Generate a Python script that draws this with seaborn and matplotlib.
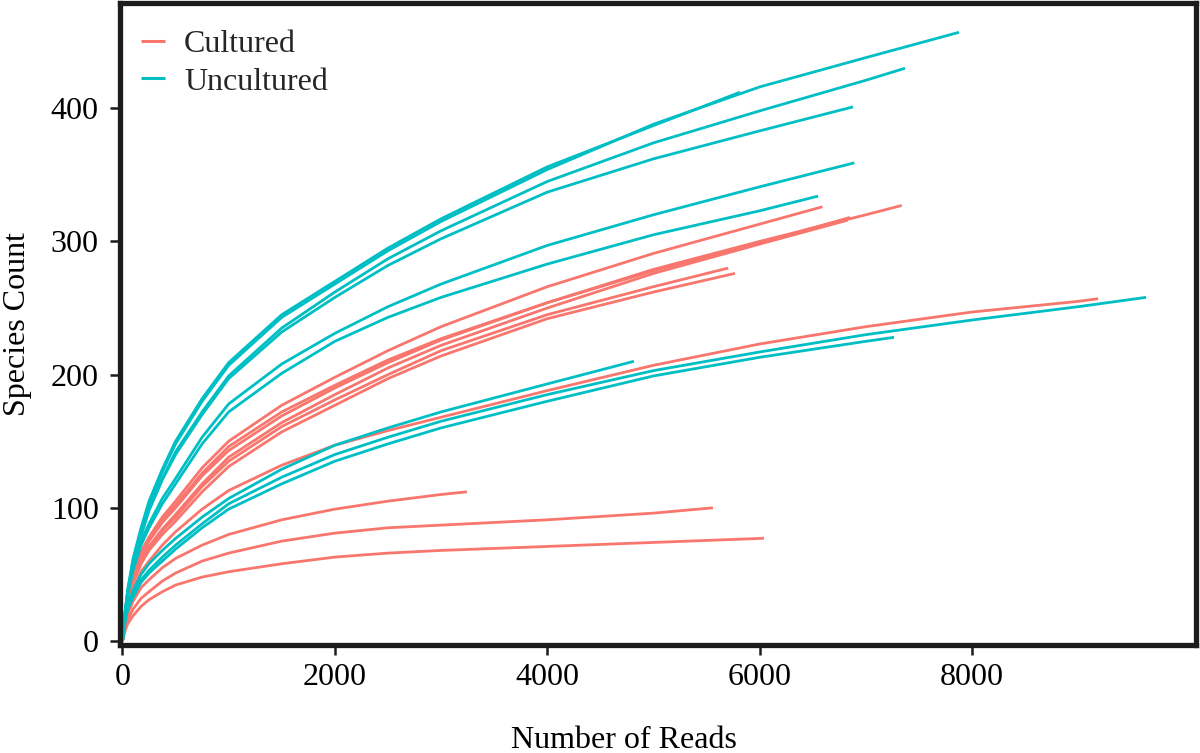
import numpy as np
import pandas as pd
import seaborn as sns
import matplotlib
matplotlib.use("Agg")
import matplotlib.pyplot as plt

GRID = [0, 25, 50, 100, 175, 250, 375, 500, 750, 1000, 1500, 2000, 2500, 3000,
        4000, 5000, 6000, 7000, 8000, 9000]

# Cultured samples: species counts at the GRID depths below the final depth,
# then the final (depth, count) point of each curve
cult_a = [0, 20, 34, 50, 67, 78, 93, 105, 130, 150, 177, 198, 218, 236, 266, 291, 313]
cult_a_end = (6590, 326)
cult_b = [0, 19, 32, 47, 64, 75, 89, 100, 124, 143, 169, 190, 209, 226, 254, 279, 300, 320]
cult_b_end = (7337, 327)
cult_c = [0, 19, 33, 49, 66, 77, 91, 102, 126, 146, 172, 192, 211, 227, 254, 278, 299]
cult_c_end = (6850, 318)
cult_d = [0, 18, 31, 45, 61, 71, 84, 95, 118, 138, 164, 185, 205, 222, 250, 276, 298]
cult_d_end = (6830, 316)
cult_e = [0, 18, 31, 45, 60, 70, 83, 93, 116, 135, 161, 181, 200, 218, 245, 266]
cult_e_end = (5704, 280)
cult_f = [0, 18, 30, 43, 58, 68, 80, 90, 112, 131, 157, 177, 197, 214, 242, 262]
cult_f_end = (5767, 276)
cult_g = [0, 17, 28, 38, 52, 60, 72, 82, 99, 113, 132, 147, 158, 168, 188, 207, 223, 236, 247, 255]
cult_g_end = (9186, 257)
cult_h = [0, 12, 20, 30, 40, 46, 55, 62, 72, 80, 91, 99, 105, 110]
cult_h_end = (3244, 112)
cult_i = [0, 10, 16, 24, 32, 37, 45, 51, 60, 66, 75, 81, 85, 87, 91, 96]
cult_i_end = (5560, 100)
cult_j = [0, 8, 13, 19, 26, 31, 37, 42, 48, 52, 58, 63, 66, 68, 71, 74, 77]
cult_j_end = (6040, 77.2)

# Uncultured samples
unc_a = [0, 22, 38, 60, 83, 103, 127, 148, 180, 207, 243, 268, 293, 315, 354, 388, 416, 438]
unc_a_end = (7877, 457)
unc_b = [0, 22, 39, 62, 85, 105, 129, 150, 182, 209, 245, 270, 295, 317, 356, 387]
unc_b_end = (5815, 412)
unc_c = [0, 21, 37, 58, 80, 99, 122, 142, 172, 199, 235, 262, 287, 308, 345, 374, 398, 421]
unc_c_end = (7368, 430)
unc_d = [0, 21, 37, 58, 79, 98, 121, 140, 170, 197, 232, 258, 282, 302, 337, 362, 383]
unc_d_end = (6878, 401)
unc_e = [0, 21, 36, 55, 75, 88, 107, 122, 153, 178, 208, 231, 251, 268, 297, 320, 341]
unc_e_end = (6891, 359)
unc_f = [0, 20, 35, 53, 72, 85, 103, 118, 148, 172, 201, 225, 243, 258, 283, 305, 323]
unc_f_end = (6549, 334)
unc_g = [0, 17, 27, 38, 50, 58, 68, 77, 93, 107, 129, 147, 160, 172, 193]
unc_g_end = (4816, 210)
unc_h = [0, 16, 25, 35, 46, 53, 63, 72, 88, 103, 123, 140, 153, 165, 185, 203, 217, 230, 241, 251]
unc_h_end = (9638, 258)
unc_i = [0, 15, 24, 33, 44, 51, 60, 69, 85, 99, 118, 135, 148, 160, 180, 199, 213, 225]
unc_i_end = (7265, 228)

GROUPS = ["Cultured", "Uncultured"]
COLORS = ["#F8766D", "#00BFC4"]

samples = [
    ("Cultured", "C1", cult_a, cult_a_end), ("Cultured", "C2", cult_b, cult_b_end),
    ("Cultured", "C3", cult_c, cult_c_end), ("Cultured", "C4", cult_d, cult_d_end),
    ("Cultured", "C5", cult_e, cult_e_end), ("Cultured", "C6", cult_f, cult_f_end),
    ("Cultured", "C7", cult_g, cult_g_end), ("Cultured", "C8", cult_h, cult_h_end),
    ("Cultured", "C9", cult_i, cult_i_end), ("Cultured", "C10", cult_j, cult_j_end),
    ("Uncultured", "U1", unc_a, unc_a_end), ("Uncultured", "U2", unc_b, unc_b_end),
    ("Uncultured", "U3", unc_c, unc_c_end), ("Uncultured", "U4", unc_d, unc_d_end),
    ("Uncultured", "U5", unc_e, unc_e_end), ("Uncultured", "U6", unc_f, unc_f_end),
    ("Uncultured", "U7", unc_g, unc_g_end), ("Uncultured", "U8", unc_h, unc_h_end),
    ("Uncultured", "U9", unc_i, unc_i_end),
]

rows = []
for grp, name, vals, (dep, last) in samples:
    for gx, gy in zip(GRID, vals):
        if gx < dep:
            rows.append((grp, name, gx, gy))
    rows.append((grp, name, dep, last))
df = pd.DataFrame(rows, columns=["group", "sample", "reads", "species"])

sns.set_theme(style="white")
plt.rcParams["font.family"] = ["Liberation Serif", "DejaVu Serif"]

fig = plt.figure(figsize=(12, 7.53), dpi=100)
ax = fig.add_axes([119.5 / 1200, 1 - 645 / 753, (1196 - 119.5) / 1200, (645 - 3) / 753])

sns.lineplot(data=df, x="reads", y="species", hue="group", units="sample",
             estimator=None, hue_order=GROUPS, palette=dict(zip(GROUPS, COLORS)),
             linewidth=2.0, ax=ax)
for ln in ax.lines:
    ln.set_solid_joinstyle("round")
    ln.set_solid_capstyle("butt")

ax.set_xlim(-28, 10108)
ax.set_ylim(-3, 479)
ax.set_xticks([0, 2000, 4000, 6000, 8000])
ax.set_yticks([0, 100, 200, 300, 400])

for s in ax.spines.values():
    s.set_linewidth(3.8)
    s.set_color("#1c1c1c")
    s.set_visible(True)

ax.tick_params(axis="both", which="major", direction="out", length=7, width=1.8,
               color="#1c1c1c", labelsize=23, labelcolor="black",
               bottom=True, left=True)
ax.tick_params(axis="y", pad=8)
ax.tick_params(axis="x", pad=6)

ax.set_xlabel("Number of Reads", fontsize=23, color="black")
ax.set_ylabel("Species Count", fontsize=23, color="black")
ax.xaxis.set_label_coords(0.4687, -0.126)
ax.yaxis.set_label_coords(-0.081, 0.5)

handles, labels = ax.get_legend_handles_labels()
for h in handles:
    h.set_linewidth(2.2)
leg = ax.legend(handles, labels, loc="upper left", bbox_to_anchor=(0.02, 0.958),
                frameon=False, fontsize=23, handlelength=0.75, handletextpad=0.6,
                labelspacing=0.25, borderaxespad=0, borderpad=0)

fig.savefig("out.png", dpi=100)
